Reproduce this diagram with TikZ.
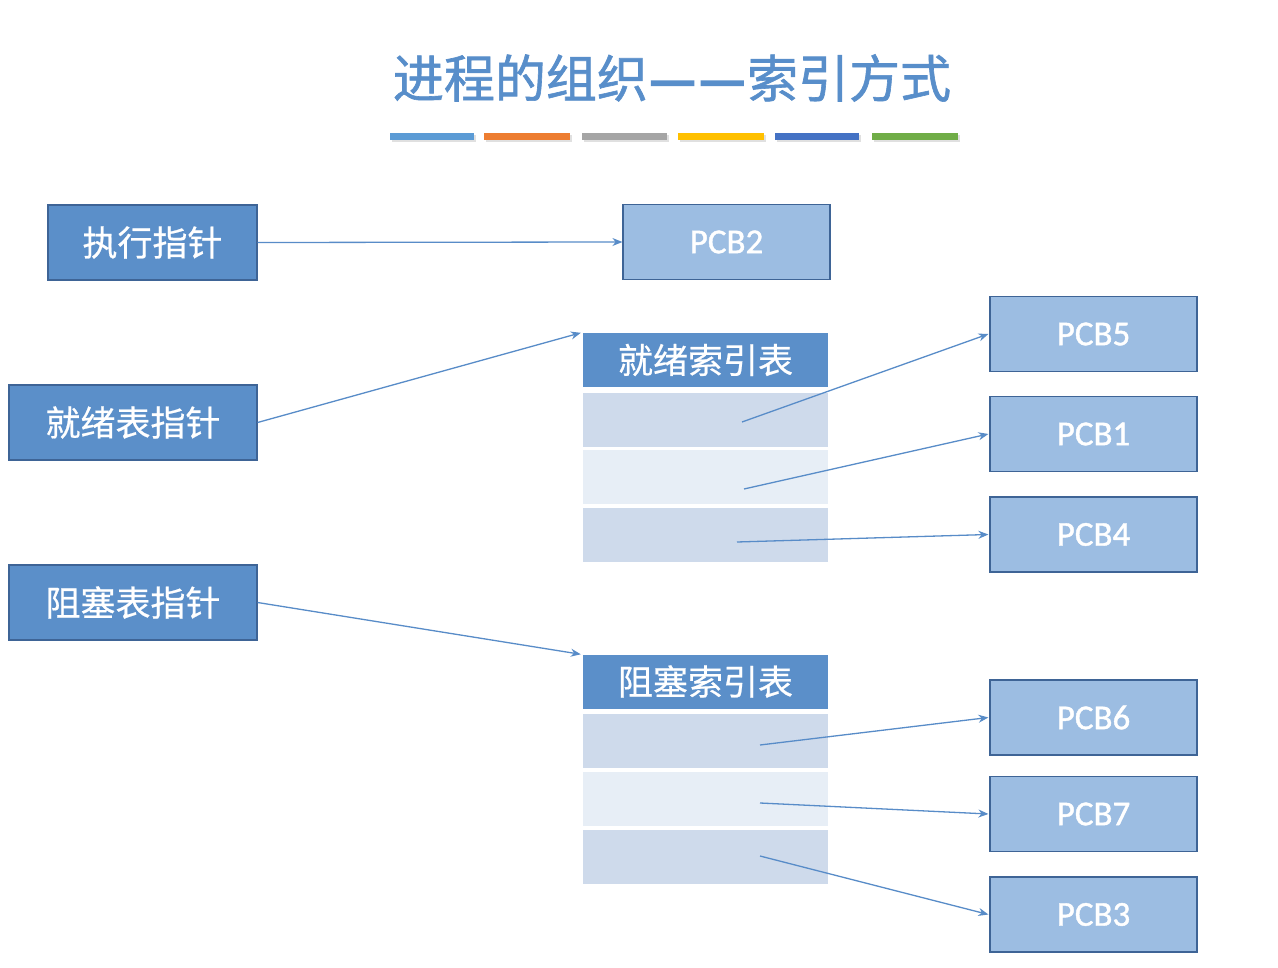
\documentclass[tikz,border=0pt]{standalone}
\usepackage{fontspec}
\setmainfont{Carlito}
\newfontfamily\pcbfont[FakeBold=1.2]{Carlito}
\newfontfamily\cjk{Noto Sans CJK SC}
\newfontfamily\cjktitle[FakeBold=1.2]{Noto Sans CJK SC}
\newfontfamily\cjkdash[FakeBold=5]{Noto Sans CJK SC}
\newfontfamily\cjkbox[FakeBold=0.6]{Noto Sans CJK SC}
\usetikzlibrary{arrows.meta}
\definecolor{titleblue}{RGB}{88,142,202}
\definecolor{darkfill}{RGB}{91,143,201}
\definecolor{boxborder}{RGB}{62,100,150}
\definecolor{pcbfill}{RGB}{156,189,226}
\definecolor{rowdark}{RGB}{206,218,235}
\definecolor{rowlight}{RGB}{231,238,246}
\definecolor{arrowc}{RGB}{88,140,200}
\definecolor{barA}{RGB}{91,155,213}
\definecolor{barB}{RGB}{237,125,49}
\definecolor{barC}{RGB}{165,165,165}
\definecolor{barD}{RGB}{255,192,0}
\definecolor{barE}{RGB}{68,114,196}
\definecolor{barF}{RGB}{112,173,71}
\tikzset{
  ptrbox/.style={draw=boxborder, line width=1.2pt, fill=darkfill, text=white,
    font=\cjkbox\fontsize{35}{35}\selectfont, inner sep=0pt},
  pcbbox/.style={draw=boxborder, line width=1.2pt, fill=pcbfill, text=white,
    font=\pcbfont\fontsize{35}{35}\selectfont, inner sep=0pt,
    minimum width=207pt, minimum height=75pt},
  header/.style={fill=darkfill, text=white, font=\cjkbox\fontsize{35}{35}\selectfont,
    inner sep=0pt, minimum width=245pt, minimum height=54pt},
  rowd/.style={fill=rowdark, inner sep=0pt, minimum width=245pt, minimum height=54pt},
  rowl/.style={fill=rowlight, inner sep=0pt, minimum width=245pt, minimum height=54pt},
  conn/.style={draw=arrowc, line width=1.3pt, -{Stealth[length=10pt,width=8pt]}},
  bar/.style={line width=7pt}
}
\begin{document}
\begin{tikzpicture}[x=1pt,y=-1pt]
\useasboundingbox (0,0) rectangle (1278,968);
\fill[white] (0,0) rectangle (1278,968);
% title
\node[text=titleblue, font=\cjktitle\fontsize{51}{51}\selectfont, inner sep=0pt] (title) at (672,78)
  {进程的组织\kern2pt{\cjkdash —\kern4pt—}\kern2pt 索引方式};
% colour bars
\foreach \a/\b/\c in {390/474/barA, 484/570/barB, 582/667/barC, 678/764/barD, 775/859/barE, 872/958/barF}{
  \draw[bar, black!12] (\a+1.5,139) -- (\b+1.5,139);
  \draw[bar, \c] (\a,136.5) -- (\b,136.5);
}
% pointer boxes
\node[ptrbox, minimum width=209pt, minimum height=75pt] (exec) at (152.5,242.5) {执行指针};
\node[ptrbox, minimum width=248pt, minimum height=75pt] (ready) at (133,422.5) {就绪表指针};
\node[ptrbox, minimum width=248pt, minimum height=75pt] (block) at (133,602.5) {阻塞表指针};
% PCB2
\node[pcbbox] (pcb2) at (726.5,242) {PCB2};
% ready index table
\node[header] (rhead) at (705.5,360) {就绪索引表};
\node[rowd] (r1) at (705.5,420) {};
\node[rowl] (r2) at (705.5,477) {};
\node[rowd] (r3) at (705.5,535) {};
% blocked index table
\node[header] (bhead) at (705.5,681.5) {阻塞索引表};
\node[rowd] (b1) at (705.5,741) {};
\node[rowl] (b2) at (705.5,798.5) {};
\node[rowd] (b3) at (705.5,856.5) {};
% right PCBs
\node[pcbbox] (pcb5) at (1093.5,334) {PCB5};
\node[pcbbox] (pcb1) at (1093.5,434) {PCB1};
\node[pcbbox] (pcb4) at (1093.5,534.5) {PCB4};
\node[pcbbox] (pcb6) at (1093.5,717.5) {PCB6};
\node[pcbbox] (pcb7) at (1093.5,814) {PCB7};
\node[pcbbox] (pcb3) at (1093.5,914.5) {PCB3};
% start points inside rows
\coordinate (s1) at (742,422);
\coordinate (s2) at (744,489);
\coordinate (s3) at (737,542);
\coordinate (s4) at (760,745);
\coordinate (s5) at (760,803);
\coordinate (s6) at (760,856);
% connectors
\draw[conn] (exec.east) -- (pcb2.west);
\draw[conn] (ready.east) -- ([xshift=-2pt]rhead.north west);
\draw[conn] (block.east) -- ([xshift=-2pt]bhead.north west);
\draw[conn] (s1) -- ([xshift=-1pt]pcb5.west);
\draw[conn] (s2) -- ([xshift=-1pt]pcb1.west);
\draw[conn] (s3) -- ([xshift=-1pt]pcb4.west);
\draw[conn] (s4) -- ([xshift=-1pt]pcb6.west);
\draw[conn] (s5) -- ([xshift=-1pt]pcb7.west);
\draw[conn] (s6) -- ([xshift=-1pt]pcb3.west);
\end{tikzpicture}
\end{document}
